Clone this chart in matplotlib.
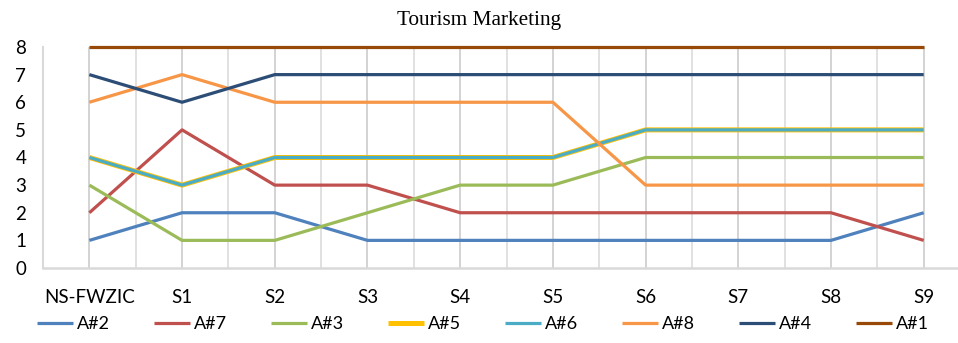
import matplotlib.pyplot as plt

categories = ["NS-FWZIC", "S1", "S2", "S3", "S4", "S5", "S6", "S7", "S8", "S9"]
series_names = ["A#2", "A#7", "A#3", "A#5", "A#6", "A#8", "A#4", "A#1"]
a2 = [1, 2, 2, 1, 1, 1, 1, 1, 1, 2]
a7 = [2, 5, 3, 3, 2, 2, 2, 2, 2, 1]
a3 = [3, 1, 1, 2, 3, 3, 4, 4, 4, 4]
a5 = [4, 3, 4, 4, 4, 4, 5, 5, 5, 5]
a6 = [4, 3, 4, 4, 4, 4, 5, 5, 5, 5]
a8 = [6, 7, 6, 6, 6, 6, 3, 3, 3, 3]
a4 = [7, 6, 7, 7, 7, 7, 7, 7, 7, 7]
a1 = [8, 8, 8, 8, 8, 8, 8, 8, 8, 8]

values = [a2, a7, a3, a5, a6, a8, a4, a1]
colors = ["#4f81bd", "#c0504d", "#9bbb59", "#ffc000", "#4bacc6", "#f79646", "#2c4d75", "#984807"]
widths = [2.3, 2.3, 2.3, 3.6, 2.3, 2.3, 2.3, 2.3]

fig = plt.figure(figsize=(9.58, 3.43), dpi=100)
ax = fig.add_axes([43 / 958, 1 - 268 / 343, 1 - 43 / 958, (268 - 47) / 343])

x = list(range(len(categories)))
# vertical gridlines at categories and halfway between
for i in x:
    ax.axvline(i, color="#c8c8c8", lw=1.1, zorder=0)
    ax.axvline(i + 0.5, color="#d9d9d9", lw=1.1, zorder=0)

for name, vals, c, w in zip(series_names, values, colors, widths):
    ax.plot(x, vals, color=c, lw=w, label=name, clip_on=False, solid_capstyle="butt")

ax.set_xlim(-0.5, 9.37)
ax.set_ylim(0, 8)
ax.set_yticks(range(9))
ax.set_xticks(x)
ax.set_xticklabels(categories)
for s in ["top", "right"]:
    ax.spines[s].set_visible(False)
ax.spines["left"].set_color("#d9d9d9")
ax.spines["left"].set_linewidth(1.5)
ax.spines["bottom"].set_color("#d9d9d9")
ax.spines["bottom"].set_linewidth(1.8)
ax.tick_params(length=0, labelsize=13.5, labelcolor="#000000")
ax.tick_params(axis="y", pad=12)
ax.tick_params(axis="x", pad=15)
for lab in ax.get_xticklabels() + ax.get_yticklabels():
    lab.set_fontfamily("Lato")

fig.text(0.5, 1 - 20 / 343, "Tourism Marketing", ha="center", va="center",
         fontsize=15.3, family="Liberation Serif")

handles, labels = ax.get_legend_handles_labels()
leg = fig.legend(handles, labels, loc="center", bbox_to_anchor=(0.504, 1 - 324 / 343), ncol=8,
                 frameon=False, prop={"family": "Lato", "size": 13},
                 handlelength=2.0, handletextpad=0.2, columnspacing=2.45)

fig.savefig("out.png", dpi=100)
